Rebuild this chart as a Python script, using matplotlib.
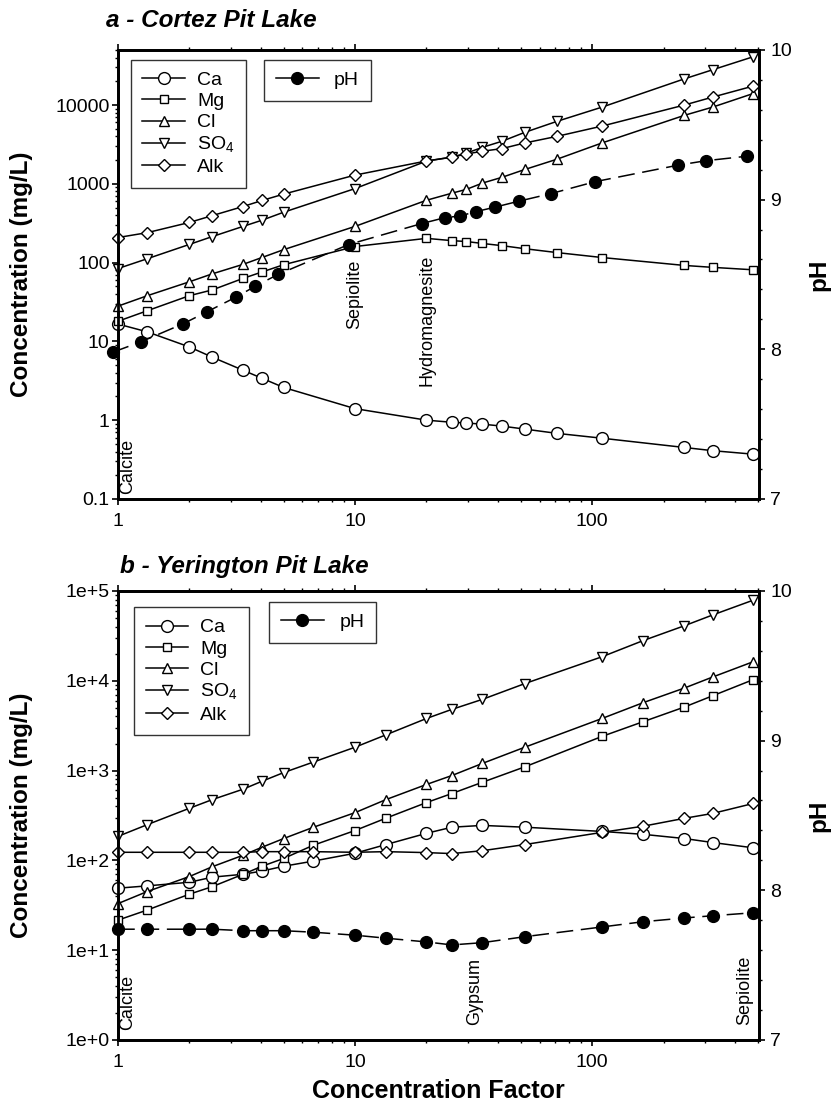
import numpy as np
import matplotlib
matplotlib.use('Agg')
import matplotlib.pyplot as plt
from matplotlib.lines import Line2D
from matplotlib.ticker import FixedLocator, FixedFormatter, LogLocator, NullFormatter, MultipleLocator

plt.rcParams['font.family'] = ['Liberation Sans', 'DejaVu Sans']
plt.rcParams['mathtext.fontset'] = 'custom'
plt.rcParams['mathtext.rm'] = 'Liberation Sans'

# Cortez pit lake
cortez_cf = [1, 1.33, 2, 2.5, 3.37, 4.05, 5, 10, 20, 25.6, 29.5, 34.4, 41.7, 52, 71, 110, 245, 322, 478]
cortez_ca = [16.6, 13.2, 8.5, 6.3, 4.3, 3.4, 2.6, 1.4, 1.0, 0.94, 0.92, 0.89, 0.84, 0.77, 0.68, 0.59, 0.45, 0.41, 0.37]
cortez_mg = [18, 24.5, 38, 45, 63, 76, 94, 160, 203, 190, 185, 175, 164, 150, 134, 116, 92, 87, 81]
cortez_cl = [28, 38, 57, 72, 95, 116, 146, 288, 618, 760, 850, 1020, 1210, 1520, 2050, 3300, 7400, 9400, 14000]
cortez_so4 = [84, 112, 170, 214, 288, 345, 436, 870, 1940, 2180, 2450, 2900, 3470, 4500, 6200, 9400, 21500, 28000, 41000]
cortez_alk = [208, 240, 323, 395, 515, 614, 740, 1290, 1950, 2180, 2390, 2590, 2800, 3300, 4000, 5400, 10000, 12600, 17400]
cortez_ph_cf = [0.95, 1.25, 1.88, 2.37, 3.16, 3.78, 4.73, 9.4, 19.1, 24, 27.6, 32.4, 39, 49.2, 67, 103, 230, 302, 450]
cortez_ph = [7.98, 8.05, 8.17, 8.25, 8.35, 8.42, 8.50, 8.70, 8.84, 8.88, 8.89, 8.92, 8.95, 8.99, 9.04, 9.12, 9.23, 9.26, 9.29]
cortez_minerals = [('Calcite', 1.10, 0.114), ('Sepiolite', 10.0, 14.4), ('Hydromagnesite', 20.1, 2.7)]

# Yerington pit lake
yer_cf = [1, 1.33, 2, 2.5, 3.37, 4.05, 5, 6.65, 10, 13.5, 20, 25.6, 34.4, 52, 110, 164, 245, 322, 478]
yer_ca = [49, 52, 57, 65, 70, 76, 86, 98, 120, 150, 200, 234, 245, 234, 210, 195, 175, 158, 138]
yer_mg = [21.6, 28, 42, 51, 70, 86, 105, 147, 215, 295, 440, 555, 740, 1100, 2400, 3500, 5100, 6800, 10300]
yer_cl = [33, 45, 66, 85, 114, 140, 175, 233, 340, 475, 700, 880, 1200, 1820, 3800, 5700, 8300, 11000, 16300]
yer_so4 = [185, 250, 380, 475, 620, 760, 950, 1240, 1820, 2500, 3800, 4800, 6200, 9300, 18500, 28000, 41000, 54000, 79000]
yer_alk = [123, 123, 123, 123, 123, 125, 125, 125, 123, 125, 122, 119, 128, 150, 205, 240, 294, 333, 430]
yer_ph = [7.74, 7.74, 7.74, 7.74, 7.73, 7.73, 7.73, 7.72, 7.70, 7.68, 7.655, 7.635, 7.65, 7.69, 7.755, 7.79, 7.815, 7.83, 7.85]
yer_minerals = [('Calcite', 1.10, 1.29), ('Gypsum', 32, 1.47), ('Sepiolite', 442, 1.47)]

ion_names = ['Ca', 'Mg', 'Cl', r'SO$_4$', 'Alk']
ion_markers = [('o', 8.5), ('s', 6.3), ('^', 7.6), ('v', 7.6), ('D', 6.2)]

FS = 14


def style_axes(ax, ax2):
    for a in (ax, ax2):
        for s in a.spines.values():
            s.set_linewidth(2)
    ax.set_xscale('log')
    ax.set_yscale('log')
    ax.set_xlim(1, 505)
    ax.xaxis.set_major_locator(FixedLocator([1, 10, 100]))
    ax.xaxis.set_major_formatter(FixedFormatter(['1', '10', '100']))
    ax.xaxis.set_minor_locator(LogLocator(base=10, subs=np.arange(2, 10)))
    ax.xaxis.set_minor_formatter(NullFormatter())
    ax.yaxis.set_minor_locator(LogLocator(base=10, subs=np.arange(2, 10), numticks=20))
    ax.yaxis.set_minor_formatter(NullFormatter())
    ax.tick_params(axis='x', which='both', direction='out', top=True, labeltop=False)
    ax.tick_params(which='major', length=4, width=1.2, labelsize=FS)
    ax.tick_params(which='minor', length=2.2, width=1)
    ax.tick_params(axis='y', which='major', pad=2)
    ax.tick_params(axis='x', which='major', pad=6)
    ax2.set_ylim(7, 10)
    ax2.yaxis.set_major_locator(MultipleLocator(1))
    ax2.yaxis.set_minor_locator(MultipleLocator(0.2))
    ax2.tick_params(which='major', direction='out', length=4, width=1.2, labelsize=FS, pad=4)
    ax2.tick_params(which='minor', direction='out', length=2.2, width=1)
    ax.set_ylabel('Concentration (mg/L)', fontsize=17.5, fontweight='bold')
    ax.yaxis.set_label_coords(-0.133, 0.5)
    ax2.set_ylabel('pH', fontsize=17.5, fontweight='bold')
    ax2.yaxis.set_label_coords(1.076, 0.5)


def draw_panel(ax, ax2, cf, ions, ph_cf, ph, minerals, leg1, leg2):
    for vals, (m, ms) in zip(ions, ion_markers):
        ax.plot(cf, vals, color='black', lw=1.1, marker=m, ms=ms, mfc='white',
                mec='black', mew=1.0, clip_on=False, zorder=3)
    ax2.plot(ph_cf, ph, color='black', lw=1.1, ls=(0, (11, 5)), marker='o', ms=8.5,
             mfc='black', mec='black', clip_on=False, zorder=3)
    for name, x, y in minerals:
        ax.text(x, y, name, rotation=90, ha='center', va='bottom', fontsize=13)

    handles = [Line2D([], [], color='black', lw=1.1, marker=m, ms=ms, mfc='white', mec='black')
               for m, ms in ion_markers]
    lg = ax2.legend(handles, ion_names, loc='upper left', bbox_to_anchor=leg1,
                    fontsize=FS, frameon=True, fancybox=False, edgecolor='black',
                    handlelength=2.2, handletextpad=0.6, labelspacing=0.18,
                    borderpad=0.6, borderaxespad=0)
    lg.get_frame().set_linewidth(1)
    ax2.add_artist(lg)
    ph_handle = Line2D([], [], color='black', lw=1.1, marker='o', ms=8.5, mfc='black', mec='black')
    lg2 = ax2.legend([ph_handle], ['pH'], loc='upper left', bbox_to_anchor=leg2,
                     fontsize=FS, frameon=True, fancybox=False, edgecolor='black',
                     handlelength=2.2, handletextpad=0.8, borderpad=0.6, borderaxespad=0)
    lg2.get_frame().set_linewidth(1)


fig = plt.figure(figsize=(8.36, 11.10), dpi=100)

ax_a = fig.add_axes([0.1411, 0.5505, 0.7667, 0.4045])
ax_a2 = ax_a.twinx()
style_axes(ax_a, ax_a2)
ax_a.set_ylim(0.1, 50000)
ax_a.yaxis.set_major_locator(FixedLocator([0.1, 1, 10, 100, 1000, 10000]))
ax_a.yaxis.set_major_formatter(FixedFormatter(['0.1', '1', '10', '100', '1000', '10000']))
draw_panel(ax_a, ax_a2, cortez_cf, [cortez_ca, cortez_mg, cortez_cl, cortez_so4, cortez_alk],
           cortez_ph_cf, cortez_ph, cortez_minerals, (0.020, 0.978), (0.228, 0.978))

ax_b = fig.add_axes([0.1411, 0.0631, 0.7667, 0.4045])
ax_b2 = ax_b.twinx()
style_axes(ax_b, ax_b2)
ax_b.set_ylim(1, 1e5)
ax_b.yaxis.set_major_locator(FixedLocator([1, 10, 100, 1e3, 1e4, 1e5]))
ax_b.yaxis.set_major_formatter(FixedFormatter(['1e+0', '1e+1', '1e+2', '1e+3', '1e+4', '1e+5']))
draw_panel(ax_b, ax_b2, yer_cf, [yer_ca, yer_mg, yer_cl, yer_so4, yer_alk],
           yer_cf, yer_ph, yer_minerals, (0.025, 0.964), (0.236, 0.976))
ax_b.set_xlabel('Concentration Factor', fontsize=18, fontweight='bold')
ax_b.xaxis.set_label_coords(0.5, -0.088)

fig.text(106 / 836, 1 - 27 / 1110, 'a - Cortez Pit Lake', fontsize=17.5, fontweight='bold',
         fontstyle='italic', ha='left', va='baseline')
fig.text(120 / 836, 1 - 573 / 1110, 'b - Yerington Pit Lake', fontsize=17.5, fontweight='bold',
         fontstyle='italic', ha='left', va='baseline')

fig.savefig('out.png', dpi=100)
